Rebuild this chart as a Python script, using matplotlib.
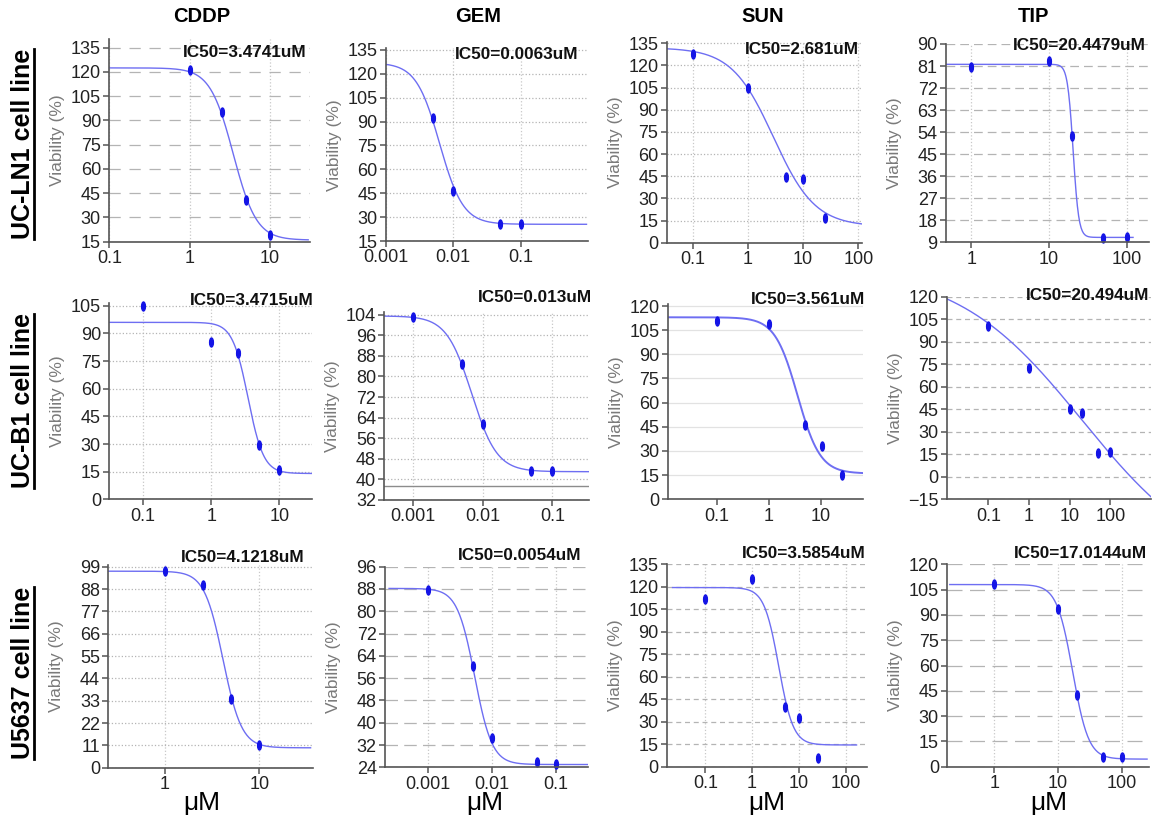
import numpy as np
import matplotlib
matplotlib.use('Agg')
import matplotlib.pyplot as plt
from matplotlib.path import Path
from matplotlib.transforms import Affine2D
from matplotlib.lines import Line2D
from matplotlib.ticker import FixedLocator, FixedFormatter, NullLocator

plt.rcParams['font.family'] = ['Liberation Sans', 'DejaVu Sans']

W, H = 1153, 824

#%% data
drugs = ['CDDP', 'GEM', 'SUN', 'TIP']
cell_lines = ['UC-LN1 cell line', 'UC-B1 cell line', 'U5637 cell line']
ic50_text = [['3.4741', '0.0063', '2.681', '20.4479'],
             ['3.4715', '0.013', '3.561', '20.494'],
             ['4.1218', '0.0054', '3.5854', '17.0144']]

# measured points (dose uM, viability %)
dose_11 = [1, 2.5, 5, 10]
via_11 = [121, 95.5, 41, 19]
dose_12 = [0.005, 0.01, 0.05, 0.1]
via_12 = [92, 46.5, 25.5, 25.5]
dose_13 = [0.1, 1, 5, 10, 25]
via_13 = [128, 104.5, 44.5, 43, 16.5]
dose_14 = [1, 10, 20, 50, 100]
via_14 = [80.7, 83, 52.4, 10.8, 11]

dose_21 = [0.1, 1, 2.5, 5, 10]
via_21 = [105, 85.3, 79.2, 29.5, 16]
dose_22 = [0.001, 0.005, 0.01, 0.05, 0.1]
via_22 = [103.2, 84.7, 61.5, 43.4, 43.3]
dose_23 = [0.1, 1, 5, 10.5, 25]
via_23 = [110.4, 108.6, 46, 33.2, 15]
dose_24 = [0.1, 1, 10, 20, 50, 100]
via_24 = [100.3, 72.6, 45, 42.7, 15.7, 16.2]

dose_31 = [1, 2.5, 5, 10]
via_31 = [96.9, 90, 33.8, 11]
dose_32 = [0.001, 0.005, 0.01, 0.05, 0.1]
via_32 = [87.6, 60.3, 34.4, 25.8, 25.1]
dose_33 = [0.1, 1, 5, 10, 25]
via_33 = [111.9, 125, 40, 32.7, 5.7]
dose_34 = [1, 10, 20, 50, 100]
via_34 = [108.3, 93.5, 42.5, 6, 5.5]

doses = [[dose_11, dose_12, dose_13, dose_14],
         [dose_21, dose_22, dose_23, dose_24],
         [dose_31, dose_32, dose_33, dose_34]]
vias = [[via_11, via_12, via_13, via_14],
        [via_21, via_22, via_23, via_24],
        [via_31, via_32, via_33, via_34]]

# fitted dose-response curves (4 parameter logistic)
fit_top = [[122.5, 127, 132, 81.7], [96, 103.5, 113, 140], [96.8, 88.2, 119.5, 108]]
fit_bottom = [[16, 25.5, 11, 11], [14, 43, 16, -65], [9.8, 25, 14.5, 4.5]]
fit_ec50 = [[3.5, 0.0063, 2.9, 20.45], [3.47, 0.007, 3.56, 20.5], [4.12, 0.0054, 3.7, 17.0]]
fit_hill = [[3, 2.5, 1.15, 12], [3.8, 2.4, 2.0, 0.28], [4.4, 3.2, 2.8, 3.5]]
fit_span = [[(0.1, 30), (0.001, 0.95), (0.034, 115), (0.47, 121)],
            [(0.032, 29.8), (0.00039, 0.336), (0.0115, 65), (0.0095, 1000)],
            [(0.25, 35), (0.00025, 0.318), (0.02, 170), (0.2, 250)]]

# axes
xlims = [[(0.1, 31.6), (0.001, 1.0), (0.034, 115), (0.47, 196)],
         [(0.032, 29.8), (0.00039, 0.336), (0.0115, 65), (0.0095, 1000)],
         [(0.25, 37.4), (0.000216, 0.318), (0.015, 280), (0.183, 271)]]
ylims = [[(15, 140.5), (15, 136), (0, 136), (9, 90)],
         [(0, 106.5), (32, 105), (0, 121), (-15, 120)],
         [(0, 99.8), (24, 96), (0, 135), (0, 120)]]
xticks = [[['0.1', '1', '10'], ['0.001', '0.01', '0.1'], ['0.1', '1', '10', '100'], ['1', '10', '100']],
          [['0.1', '1', '10'], ['0.001', '0.01', '0.1'], ['0.1', '1', '10'], ['0.1', '1', '10', '100']],
          [['1', '10'], ['0.001', '0.01', '0.1'], ['0.1', '1', '10', '100'], ['1', '10', '100']]]
yticks = [[(15, 135, 15), (15, 135, 15), (0, 135, 15), (9, 90, 9)],
          [(0, 105, 15), (32, 104, 8), (0, 120, 15), (-15, 120, 15)],
          [(0, 99, 11), (24, 96, 8), (0, 135, 15), (0, 120, 15)]]

#%% layout (pixels: left, right, top, bottom)
boxes = [[(109.3, 310, 38.8, 241.7), (385.7, 588, 48.4, 241), (666.7, 861.7, 41.8, 242.7), (946, 1149.3, 44, 242.3)],
         [(109.3, 311.7, 303, 499.3), (384.3, 589, 312.1, 500), (667.7, 863.3, 304.4, 499.3), (946.7, 1151, 296.7, 499.3)],
         [(108.3, 313.3, 565.1, 767.7), (385, 588.3, 566.7, 767.3), (666.7, 866.7, 564.3, 766.7), (947.3, 1149.3, 564.3, 766.7)]]
ic50_pos = [[(306, 52.3), (578, 54.3), (859.3, 50), (1146, 45)],
            [(313.3, 300.7), (591.7, 297.3), (865, 300), (1149.3, 295)],
            [(304, 557.3), (581.7, 555), (866, 553.3), (1146.7, 554)]]
title_x = [202, 478, 763, 1033]
um_x = [202, 485, 767, 1049]
row_y = [144, 401, 673]

# grid line styles per panel (horizontal, vertical)
hgrid = [[(0, (9, 7)), ':', ':', (0, (7, 4))],
         [':', ':', '-', (0, (4, 3))],
         [':', (0, (10, 5)), (0, (4, 3)), (0, (12, 6))]]
vgrid = [[':', ':', ':', ':'],
         [':', ':', None, None],
         [':', ':', ':', ':']]

curve_col = '#6e6ef2'
point_col = '#1414e6'
ellipse = Path.unit_circle().transformed(Affine2D().scale(0.42, 1.0))

fig = plt.figure(figsize=(W / 100, H / 100), dpi=100)


def fx(p):
    return p / W


def fy(p):
    return 1 - p / H


for r in range(3):
    for c in range(4):
        l, rt, t, b = boxes[r][c]
        ax = fig.add_axes([fx(l), fy(b), (rt - l) / W, (b - t) / H])
        ax.set_xscale('log')
        ax.set_xlim(*xlims[r][c])
        ax.set_ylim(*ylims[r][c])

        ys, ye, st = yticks[r][c]
        ax.set_yticks(np.arange(ys, ye + st / 2, st))
        xt = [float(v) for v in xticks[r][c]]
        ax.xaxis.set_major_locator(FixedLocator(xt))
        ax.xaxis.set_major_formatter(FixedFormatter(xticks[r][c]))
        ax.xaxis.set_minor_locator(NullLocator())

        # grid
        hcol = '#e2e2e2' if hgrid[r][c] == '-' else '#b4b4b4'
        ax.grid(axis='y', linestyle=hgrid[r][c], color=hcol, linewidth=0.9)
        if vgrid[r][c] is not None:
            ax.grid(axis='x', linestyle=vgrid[r][c], color='#c8c8c8', linewidth=0.9)
        if r == 1 and c == 1:
            ax.axhline(37.5, color='#8c8c8c', linewidth=1.0)
        ax.set_axisbelow(True)

        # fitted curve
        x0, x1 = fit_span[r][c]
        xc = np.logspace(np.log10(x0), np.log10(x1), 300)
        top, bot = fit_top[r][c], fit_bottom[r][c]
        yc = bot + (top - bot) / (1 + (xc / fit_ec50[r][c]) ** fit_hill[r][c])
        lw = 1.4 if (r == 1 and c == 2) else 1.0
        ax.plot(xc, yc, color=curve_col, linewidth=lw, clip_on=True)

        # measured points
        ax.plot(doses[r][c], vias[r][c], linestyle='none', marker=ellipse,
                markersize=6.5, color=point_col, clip_on=False)

        for s in ['top', 'right']:
            ax.spines[s].set_visible(False)
        for s in ['left', 'bottom']:
            ax.spines[s].set_color('#555555')
            ax.spines[s].set_linewidth(1.2)
        ax.tick_params(direction='out', length=4, width=1.1, color='#555555',
                       labelsize=13, labelcolor='#222222', pad=2)

        ax.set_ylabel('Viability (%)', fontsize=12.5, color='#7a7a7a')
        ax.yaxis.set_label_coords(-44 / (rt - l), 0.5)

        px, py = ic50_pos[r][c]
        fig.text(fx(px), fy(py), 'IC50=%suM' % ic50_text[r][c], ha='right', va='center',
                 fontsize=12.3, fontweight='bold', color='#111111')

# column titles
for c in range(4):
    fig.text(fx(title_x[c]), fy(16), drugs[c], ha='center', va='center',
             fontsize=14.5, fontweight='bold')
    fig.text(fx(um_x[c]), fy(803), '\u03bcM', ha='center', va='center', fontsize=19)

# row labels, underlined
row_texts = []
for r in range(3):
    t = fig.text(fx(23), fy(row_y[r]), cell_lines[r], rotation=90, ha='center', va='center',
                 fontsize=18, fontweight='bold')
    row_texts.append(t)

fig.canvas.draw()
rend = fig.canvas.get_renderer()
for t in row_texts:
    bb = t.get_window_extent(rend)
    xu = (bb.x1 - 1) / W
    fig.add_artist(Line2D([xu, xu], [bb.y0 / H, bb.y1 / H], color='black',
                          linewidth=2.0, transform=fig.transFigure))

fig.savefig('out.png', dpi=100)
